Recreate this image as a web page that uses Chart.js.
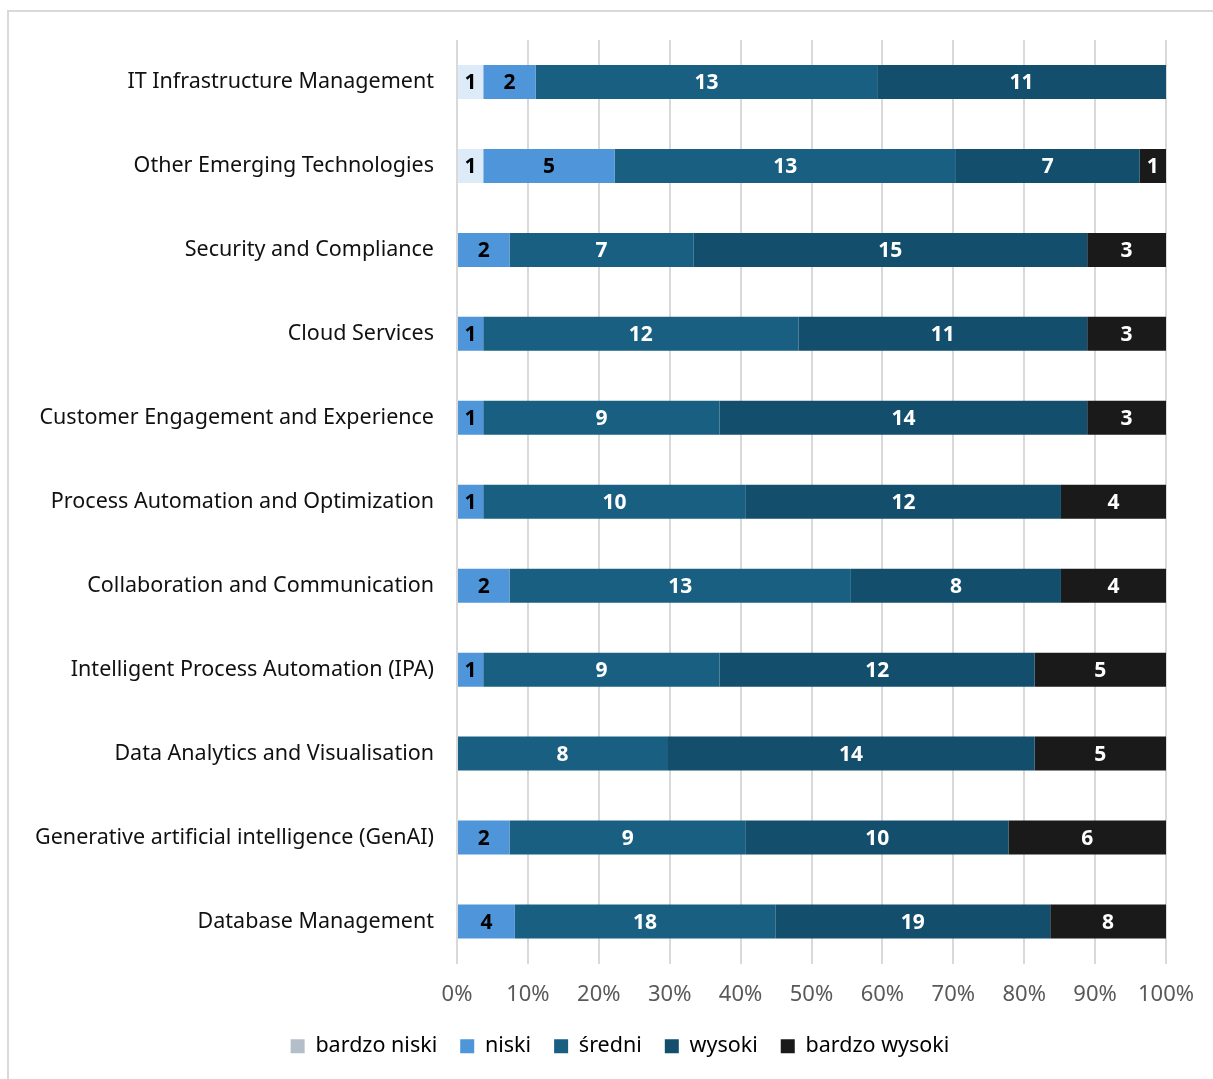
<!DOCTYPE html>
<html>
<head>
<meta charset="utf-8">
<script src="https://cdn.jsdelivr.net/npm/chart.js@4.4.1/dist/chart.umd.min.js"></script>
<style>
  body { margin: 0; background: #fff; }
  #box { position: absolute; left: 7px; top: 10px; width: 1210px; height: 1075px; border: 2px solid #d9d9d9; }
  #wrap { position: relative; width: 1204px; height: 1067px; }
</style>
</head>
<body>
<div id="box"><div id="wrap"><canvas id="myChart"></canvas></div></div>
<script>
var categories = [
  "IT Infrastructure Management",
  "Other Emerging Technologies",
  "Security and Compliance",
  "Cloud Services",
  "Customer Engagement and Experience",
  "Process Automation and Optimization",
  "Collaboration and Communication",
  "Intelligent Process Automation (IPA)",
  "Data Analytics and Visualisation",
  "Generative artificial intelligence (GenAI)",
  "Database Management"
];

// liczba odpowiedzi w kazdej kategorii
var bardzoNiski   = [1, 1, 0, 0, 0, 0, 0, 0, 0, 0, 0];
var niski         = [2, 5, 2, 1, 1, 1, 2, 1, 0, 2, 4];
var sredni        = [13, 13, 7, 12, 9, 10, 13, 9, 8, 9, 18];
var wysoki        = [11, 7, 15, 11, 14, 12, 8, 12, 14, 10, 19];
var bardzoWysoki  = [0, 1, 3, 3, 3, 4, 4, 5, 5, 6, 8];

var seriesNames = ["bardzo niski", "niski", "średni", "wysoki", "bardzo wysoki"];
var xTicks = [0, 10, 20, 30, 40, 50, 60, 70, 80, 90, 100];

var counts = [bardzoNiski, niski, sredni, wysoki, bardzoWysoki];
var barColors = ["#dcebf7", "#4e95d9", "#195f81", "#134f6d", "#1a1a1a"];
var legendColors = ["#b4bec8", "#4e95d9", "#195f81", "#134f6d", "#1a1a1a"];
var labelColors = ["#000000", "#000000", "#ffffff", "#ffffff", "#ffffff"];

var FONT = "'Noto Sans', sans-serif";

// sumy w wierszach -> procenty
var totals = [];
for (var i = 0; i < categories.length; i++) {
  var t = 0;
  for (var s = 0; s < counts.length; s++) t += counts[s][i];
  totals.push(t);
}

var datasets = [];
for (var s = 0; s < counts.length; s++) {
  var pct = [];
  for (var i = 0; i < categories.length; i++) pct.push(counts[s][i] / totals[i] * 100);
  datasets.push({
    label: seriesNames[s],
    data: pct,
    backgroundColor: barColors[s],
    borderWidth: 0,
    barPercentage: 0.405,
    categoryPercentage: 1.0
  });
}

// liczby wewnatrz segmentow
var countLabels = {
  id: "countLabels",
  afterDatasetsDraw: function(chart) {
    var ctx = chart.ctx;
    ctx.save();
    ctx.font = "bold 21px " + FONT;
    ctx.textAlign = "center";
    ctx.textBaseline = "middle";
    chart.data.datasets.forEach(function(ds, s) {
      var meta = chart.getDatasetMeta(s);
      meta.data.forEach(function(bar, i) {
        var v = counts[s][i];
        if (!v) return;
        ctx.fillStyle = labelColors[s];
        ctx.fillText(String(v), (bar.x + bar.base) / 2, bar.y + 1);
      });
    });
    ctx.restore();
  }
};

// legenda przesunieta pod srodek wykresu
var legendShift = {
  id: "legendShift",
  afterLayout: function(chart) {
    chart.legend.left = 64;
    chart.legend.right = 1158;
  }
};

new Chart(document.getElementById("myChart"), {
  type: "bar",
  data: { labels: categories, datasets: datasets },
  options: {
    indexAxis: "y",
    responsive: true,
    maintainAspectRatio: false,
    animation: false,
    layout: { autoPadding: false, padding: { top: 28, right: 47, left: 0, bottom: 12 } },
    scales: {
      x: {
        stacked: true,
        min: 0,
        max: 100,
        afterBuildTicks: function(scale) {
          scale.ticks = xTicks.map(function(v) { return { value: v }; });
        },
        afterFit: function(scale) { scale.height = 49; },
        grid: { color: "#d9d9d9", lineWidth: 2, drawTicks: false },
        border: { display: false },
        ticks: {
          color: "#595959",
          padding: 18,
          font: { size: 22, family: FONT },
          callback: function(v) { return v + "%"; }
        }
      },
      y: {
        stacked: true,
        afterFit: function(scale) {
          scale.width = 448;
          scale.paddingTop = 0;
          scale.paddingBottom = 0;
        },
        grid: { display: false, drawTicks: false },
        border: { display: false },
        ticks: {
          color: "#111111",
          padding: 23,
          font: { size: 21.5, family: FONT }
        }
      }
    },
    plugins: {
      legend: {
        position: "bottom",
        labels: {
          boxWidth: 14,
          boxHeight: 14,
          padding: 23,
          color: "#111111",
          font: { size: 21.5, family: FONT },
          generateLabels: function(chart) {
            return chart.data.datasets.map(function(ds, s) {
              return {
                text: ds.label,
                fillStyle: legendColors[s],
                strokeStyle: legendColors[s],
                lineWidth: 0,
                hidden: false,
                datasetIndex: s
              };
            });
          }
        }
      },
      tooltip: { enabled: false }
    }
  },
  plugins: [countLabels, legendShift]
});
</script>
</body>
</html>
